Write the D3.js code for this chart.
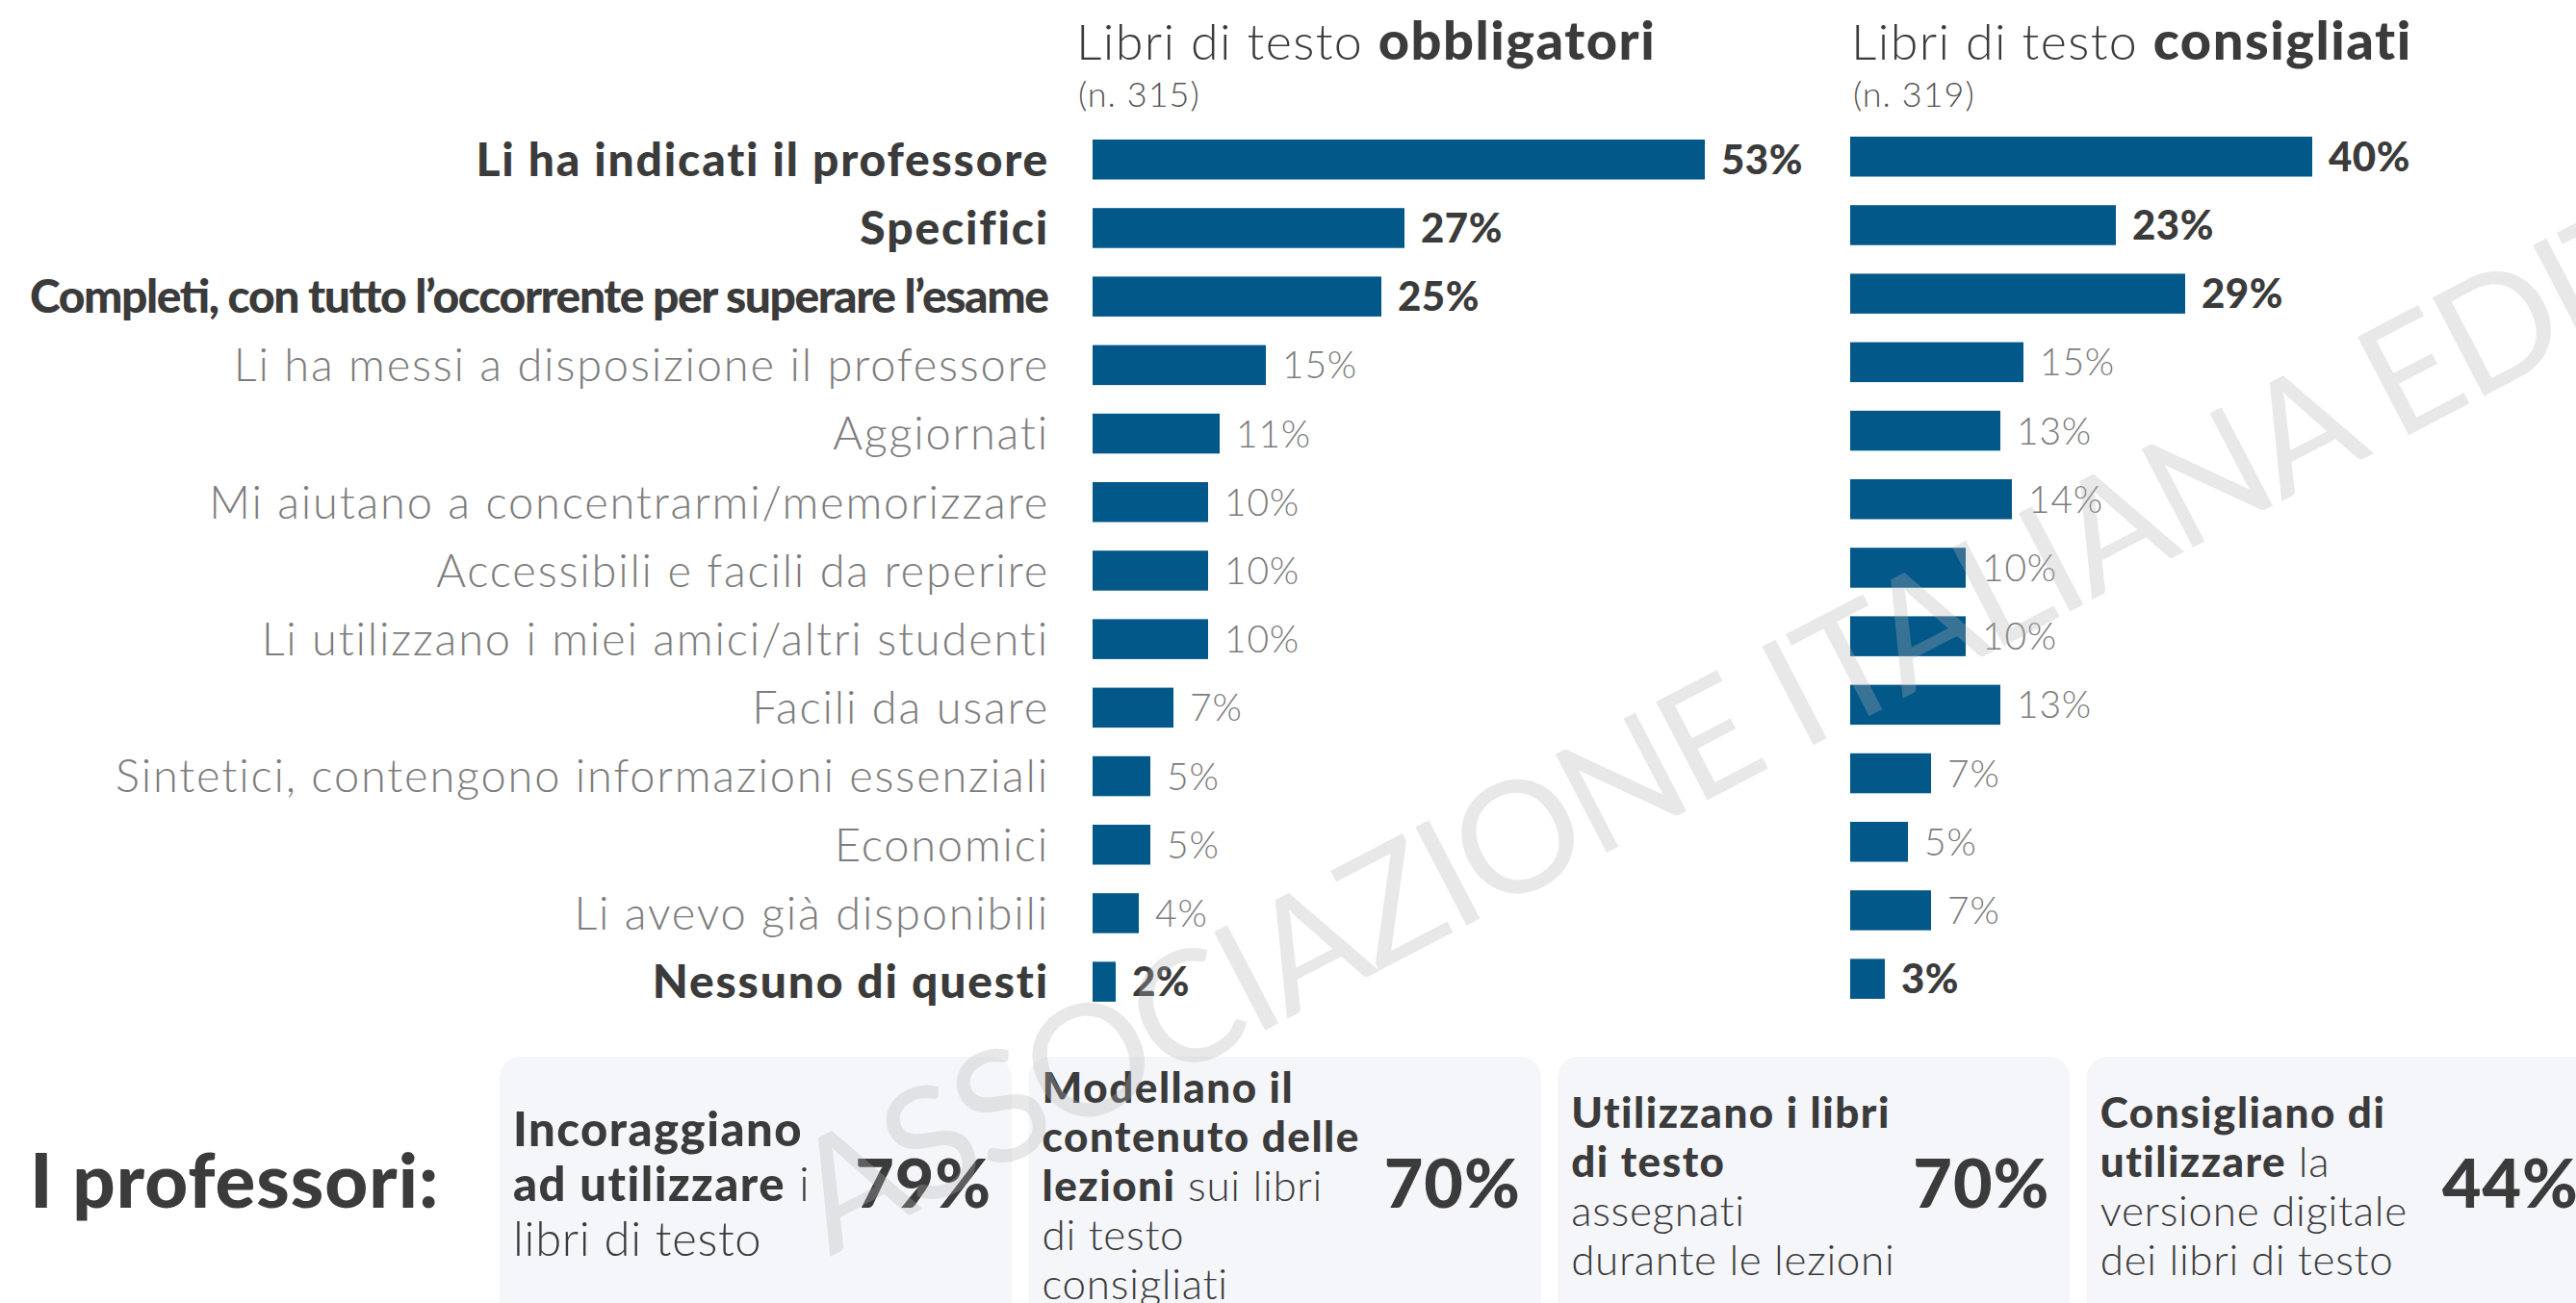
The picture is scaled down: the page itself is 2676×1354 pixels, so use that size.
<!DOCTYPE html>
<html><head><meta charset="utf-8">
<script src="https://cdn.jsdelivr.net/npm/d3@7"></script>
<style>
html,body{margin:0;padding:0;background:#fff;}
svg{display:block;font-family:Lato,"Noto Sans",sans-serif;}
</style></head>
<body>
<svg id="chart" width="2676" height="1354"></svg>
<script>
// ---- data ----
const categories = [
  "Li ha indicati il professore",
  "Specifici",
  "Completi, con tutto l’occorrente per superare l’esame",
  "Li ha messi a disposizione il professore",
  "Aggiornati",
  "Mi aiutano a concentrarmi/memorizzare",
  "Accessibili e facili da reperire",
  "Li utilizzano i miei amici/altri studenti",
  "Facili da usare",
  "Sintetici, contengono informazioni essenziali",
  "Economici",
  "Li avevo già disponibili",
  "Nessuno di questi"
];
const obbligatori = [53, 27, 25, 15, 11, 10, 10, 10, 7, 5, 5, 4, 2];
const consigliati = [40, 23, 29, 15, 13, 14, 10, 10, 13, 7, 5, 7, 3];
const highlighted = [
  "Li ha indicati il professore",
  "Specifici",
  "Completi, con tutto l’occorrente per superare l’esame",
  "Nessuno di questi"
];
const panelTitlePlain = ["Libri di testo ", "Libri di testo "];
const panelTitleBold = ["obbligatori", "consigliati"];
const panelN = ["(n. 315)", "(n. 319)"];
const profTitle = "I professori:";
const profValues = [79, 70, 70, 44];
// each card: lines, each line: segments [text, isBold]
const profTexts = [
  [[["Incoraggiano", 1]], [["ad utilizzare", 1], [" i", 0]], [["libri di testo", 0]]],
  [[["Modellano il", 1]], [["contenuto delle", 1]], [["lezioni", 1], [" sui libri", 0]], [["di testo", 0]], [["consigliati", 0]]],
  [[["Utilizzano i libri", 1]], [["di testo", 1]], [["assegnati", 0]], [["durante le lezioni", 0]]],
  [[["Consigliano di", 1]], [["utilizzare", 1], [" la", 0]], [["versione digitale", 0]], [["dei libri di testo", 0]]]
];
const watermark = "ASSOCIAZIONE ITALIANA EDITORI";

// ---- drawing ----
const svg = d3.select("#chart");
const dark = "#3b3b3b", gray = "#7d7d7d", barColor = "#03588a";

const x = d3.scaleLinear().domain([0, 100]).range([0, 1200]);
const panels = [
  {values: obbligatori, x0: 1135, y0: 145, tx: 1118},
  {values: consigliati, x0: 1922, y0: 142, tx: 1923}
];
const labelRight = 1090, labelLeftLimit = 31;

panels.forEach((p, pi) => {
  const y = d3.scaleBand().domain(categories)
    .range([p.y0, p.y0 + 12 * 71.2 + 41.5]).paddingInner(0.417).paddingOuter(0);
  const g = svg.append("g");
  // title
  const t = g.append("text").attr("x", p.tx).attr("y", 62).attr("fill", dark);
  t.append("tspan").attr("font-size", 52).attr("font-weight", 300)
    .attr("letter-spacing", 1.4).text(panelTitlePlain[pi]);
  t.append("tspan").attr("font-size", 56).attr("font-weight", 900)
    .attr("letter-spacing", 1.5).text(panelTitleBold[pi]);
  g.append("text").attr("x", p.tx + 2).attr("y", 111).attr("font-size", 36)
    .attr("font-weight", 300).attr("letter-spacing", 1).attr("fill", "#555").text(panelN[pi]);

  g.selectAll("rect.bar").data(categories).join("rect").attr("class", "bar")
    .attr("x", p.x0).attr("y", d => y(d))
    .attr("width", (d, i) => x(p.values[i])).attr("height", y.bandwidth())
    .attr("fill", barColor);
  g.selectAll("text.val").data(categories).join("text").attr("class", "val")
    .attr("x", (d, i) => p.x0 + x(p.values[i]) + 17)
    .attr("y", d => y(d) + y.bandwidth() / 2)
    .attr("dy", "0.36em")
    .attr("font-size", d => highlighted.includes(d) ? 42 : 39)
    .attr("letter-spacing", d => highlighted.includes(d) ? 0.5 : 0.8)
    .attr("font-weight", d => highlighted.includes(d) ? 900 : 300)
    .attr("fill", d => highlighted.includes(d) ? dark : gray)
    .text((d, i) => p.values[i] + "%");
  if (pi === 0) {
    g.selectAll("text.cat").data(categories).join("text").attr("class", "cat")
      .attr("x", labelRight).attr("y", d => y(d) + y.bandwidth() / 2)
      .attr("dy", "0.36em").attr("text-anchor", "end")
      .attr("font-size", d => highlighted.includes(d) ? 48 : 47)
      .attr("letter-spacing", 1.8)
      .attr("font-weight", d => highlighted.includes(d) ? 900 : 300)
      .attr("fill", d => highlighted.includes(d) ? dark : gray)
      .text(d => d)
      .each(function() {
        const maxW = labelRight - labelLeftLimit;
        if (this.getComputedTextLength() > maxW) {
          d3.select(this).attr("letter-spacing", null)
            .attr("textLength", maxW).attr("lengthAdjust", "spacing");
        }
      });
  }
});

// bottom section
svg.append("text").attr("x", 31).attr("y", 1255).attr("font-size", 78)
  .attr("font-weight", 900).attr("letter-spacing", 1).attr("fill", dark).text(profTitle);

const cx = d3.scaleBand().domain(d3.range(profValues.length))
  .range([519, 2700]).paddingInner(0.0315).paddingOuter(0);
const cards = svg.append("g").selectAll("g").data(profValues).join("g")
  .attr("transform", (d, i) => `translate(${cx(i)},1098)`);
cards.append("rect").attr("width", cx.bandwidth()).attr("height", 300)
  .attr("rx", 22).attr("fill", "#f5f6fa");
cards.append("text").attr("x", cx.bandwidth() - 21).attr("y", 157)
  .attr("text-anchor", "end").attr("font-size", 70).attr("font-weight", 900)
  .attr("letter-spacing", 1).attr("fill", dark).text(d => d + "%");
cards.each(function(d, i) {
  const lines = profTexts[i];
  const big = lines.length <= 3;
  const fs = big ? 49 : 44;
  const lh = big ? 57 : 51;
  const mid = 150;
  const first = mid - (lines.length - 1) * lh / 2;
  const tx = d3.select(this).append("text").attr("font-size", fs).attr("fill", dark);
  lines.forEach((line, li) => {
    line.forEach((seg, si) => {
      const ts = tx.append("tspan").text(seg[0])
        .attr("font-weight", seg[1] ? 900 : 300)
        .attr("letter-spacing", seg[1] ? 1.5 : 0.7);
      if (si === 0) ts.attr("x", 14).attr("y", first + li * lh);
    });
  });
});

// watermark
svg.append("text")
  .attr("transform", "translate(862,1306) rotate(-27.5)")
  .attr("font-size", 161).attr("font-weight", 400).attr("letter-spacing", -5)
  .attr("fill", "#b4b4b4").attr("fill-opacity", 0.3)
  .text(watermark);
</script>
</body></html>
